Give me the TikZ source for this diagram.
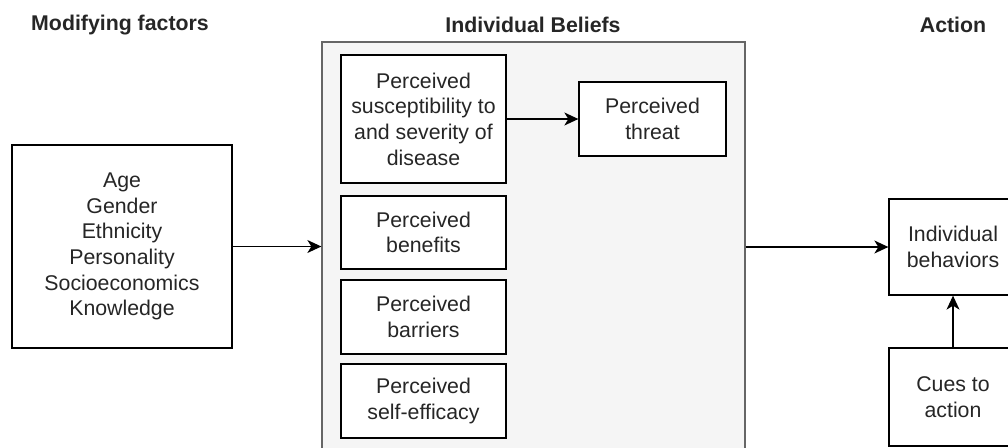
\documentclass[tikz,border=0pt]{standalone}
\usepackage{fontspec}
\setmainfont{Liberation Sans}
\usetikzlibrary{arrows.meta}

\begin{document}
\begin{tikzpicture}[x=1pt, y=-1pt,
    every node/.style={font=\fontsize{21.3}{25.6}\selectfont, text=black!85},
    box/.style={draw=black, line width=1.3pt, fill=white, align=center, inner sep=0pt},
    heading/.style={font=\fontsize{21.3}{25.6}\selectfont\bfseries},
    arrow/.style={line width=1.3pt, -{Stealth[length=14pt, width=13pt, inset=4pt]}}]
    \useasboundingbox (0,0) rectangle (1008,447);
    \clip (0,0) rectangle (1008,447);

    \node [heading] (modhead) at (120,25) {Modifying factors};
    \node [heading] (belhead) at (533,25) {Individual Beliefs};
    \node [heading] (acthead) at (953,25) {Action};

    \node [box, minimum width=220pt, minimum height=203pt] (factors) at (122,246.5)
      {Age\\Gender\\Ethnicity\\Personality\\Socioeconomics\\Knowledge};

    \node [draw=black!60, line width=1.3pt, fill=black!4, minimum width=423pt,
      minimum height=418pt, inner sep=0pt] (beliefs) at (533.5,251) {};

    \node [box, minimum width=165pt, minimum height=128pt] (suscept) at (423.5,119)
      {Perceived\\susceptibility to\\and severity of\\disease};
    \node [box, minimum width=147pt, minimum height=74pt] (threat) at (652.5,119)
      {Perceived\\threat};
    \node [box, minimum width=165pt, minimum height=73pt] (benefits) at (423.5,232.5)
      {Perceived\\benefits};
    \node [box, minimum width=165pt, minimum height=74pt] (barriers) at (423.5,317)
      {Perceived\\barriers};
    \node [box, minimum width=165pt, minimum height=74pt] (efficacy) at (423.5,401)
      {Perceived\\self-efficacy};

    \node [box, minimum width=128pt, minimum height=96pt] (behav) at (953,247)
      {Individual\\behaviors};
    \node [box, minimum width=128pt, minimum height=98pt] (cues) at (953,397)
      {Cues to\\action};

    \draw [arrow] (factors.east) -- (factors.east -| beliefs.west);
    \draw [arrow] (suscept.east) -- (threat.west);
    \draw [arrow] (beliefs.east |- behav.west) -- (behav.west);
    \draw [arrow] (cues.north) -- (behav.south);
  \end{tikzpicture}
\end{document}
